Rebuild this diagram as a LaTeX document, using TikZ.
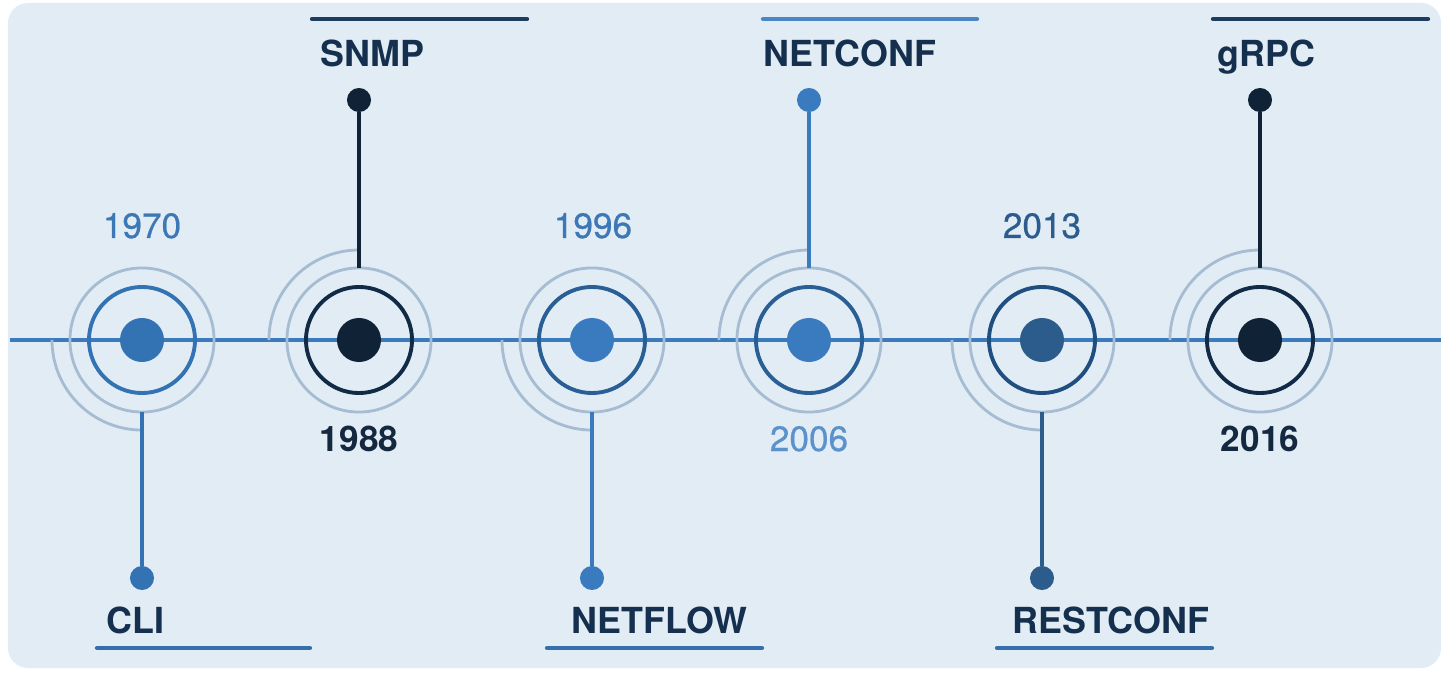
\documentclass[tikz,border=0pt]{standalone}
\usepackage{fontspec}
\setmainfont{TeX Gyre Heros}
\newfontfamily\yearfont[FakeBold=0.6]{TeX Gyre Heros}
\definecolor{panel}{HTML}{E2ECF5}
\definecolor{tline}{HTML}{3B7BBD}
\definecolor{bluea}{HTML}{3473B3}
\definecolor{blueb}{HTML}{3A7BBF}
\definecolor{bluec}{HTML}{2C5C8C}
\definecolor{ringb}{HTML}{2A5F96}
\definecolor{ringc}{HTML}{1F4F80}
\definecolor{navy}{HTML}{0F2236}
\definecolor{navyring}{HTML}{112A45}
\definecolor{halo}{HTML}{A6BCD2}
\definecolor{lbl}{HTML}{15304E}
\definecolor{yra}{HTML}{3C78B6}
\definecolor{yrb}{HTML}{5B92CB}
\definecolor{yrc}{HTML}{2B5C8F}
\definecolor{yrd}{HTML}{14283F}
\definecolor{barnavy}{HTML}{1C3C60}
\definecolor{barblue}{HTML}{4A88C5}
\definecolor{barmid}{HTML}{3670AC}
\tikzset{
  core/.style={circle, fill=#1, minimum size=0.44cm, inner sep=0pt, outer sep=0pt},
  ring/.style={circle, draw=#1, line width=1.1pt, minimum size=1.06cm, inner sep=0pt},
  halo ring/.style={circle, draw=halo, line width=0.8pt, minimum size=1.44cm, inner sep=0pt, outer sep=0pt},
  halo arc/.style={draw=halo, line width=0.8pt},
  enddot/.style={circle, fill=#1, minimum size=0.24cm, inner sep=0pt, outer sep=0pt},
  stem/.style={draw=#1, line width=1.1pt},
  bar/.style={draw=#1, line width=1.2pt, line cap=round},
  tech/.style={anchor=base west, text=lbl, font=\fontsize{10.2}{12}\selectfont\bfseries, inner sep=0pt},
  year/.style={anchor=base, text=#1, font=\fontsize{10}{12}\selectfont\yearfont, inner sep=0pt},
  boldyear/.style={anchor=base, text=yrd, font=\fontsize{10}{12}\selectfont\bfseries, inner sep=0pt},
}
\begin{document}
\begin{tikzpicture}[x=0.01cm, y=0.01cm]
\useasboundingbox (0,0) rectangle (1441,675);
\fill[white] (0,0) rectangle (1441,675);
\fill[panel, rounded corners=0.2cm] (8,7) rectangle (1441,672);

% timeline
\coordinate (tl) at (10,335);
\coordinate (tr) at (1441,335);
\draw[tline, line width=1.1pt] (tl) -- (tr);

% ---- 1970 CLI (down)
\node[halo ring] (h1) at (142,335) {};
\draw[halo arc] (52,335) arc (180:270:0.9cm);
\node[ring=bluea] (r1) at (142,335) {};
\node[core=bluea] (d1) at (142,335) {};
\node[enddot=bluea] (e1) at (142,97) {};
\draw[stem=bluea] (h1.south) -- (e1);
\node[year=yra] (y1) at (142,437) {1970};
\node[tech] (t1) at (106,42) {CLI};
\coordinate (b1a) at (97,27); \coordinate (b1b) at (310,27);
\draw[bar=barmid] (b1a) -- (b1b);

% ---- 1988 SNMP (up)
\node[halo ring] (h2) at (359,335) {};
\draw[halo arc] (359,425) arc (90:180:0.9cm);
\node[ring=navyring] (r2) at (359,335) {};
\node[core=navy] (d2) at (359,335) {};
\node[enddot=navy] (e2) at (359,575) {};
\draw[stem=navy] (h2.north) -- (e2);
\node[boldyear] (y2) at (359,224) {1988};
\node[tech] (t2) at (320,608) {SNMP};
\coordinate (b2a) at (312,656); \coordinate (b2b) at (527,656);
\draw[bar=barnavy] (b2a) -- (b2b);

% ---- 1996 NETFLOW (down)
\node[halo ring] (h3) at (592,335) {};
\draw[halo arc] (502,335) arc (180:270:0.9cm);
\node[ring=ringb] (r3) at (592,335) {};
\node[core=blueb] (d3) at (592,335) {};
\node[enddot=blueb] (e3) at (592,97) {};
\draw[stem=blueb] (h3.south) -- (e3);
\node[year=yra] (y3) at (593,437) {1996};
\node[tech] (t3) at (571,42) {NETFLOW};
\coordinate (b3a) at (547,27); \coordinate (b3b) at (762,27);
\draw[bar=barmid] (b3a) -- (b3b);

% ---- 2006 NETCONF (up)
\node[halo ring] (h4) at (809,335) {};
\draw[halo arc] (809,425) arc (90:180:0.9cm);
\node[ring=ringb] (r4) at (809,335) {};
\node[core=blueb] (d4) at (809,335) {};
\node[enddot=blueb] (e4) at (809,575) {};
\draw[stem=blueb] (h4.north) -- (e4);
\node[year=yrb] (y4) at (809,224) {2006};
\node[tech] (t4) at (763,608) {NETCONF};
\coordinate (b4a) at (763,656); \coordinate (b4b) at (977,656);
\draw[bar=barblue] (b4a) -- (b4b);

% ---- 2013 RESTCONF (down)
\node[halo ring] (h5) at (1042,335) {};
\draw[halo arc] (952,335) arc (180:270:0.9cm);
\node[ring=ringc] (r5) at (1042,335) {};
\node[core=bluec] (d5) at (1042,335) {};
\node[enddot=bluec] (e5) at (1042,97) {};
\draw[stem=bluec] (h5.south) -- (e5);
\node[year=yrc] (y5) at (1042,437) {2013};
\node[tech] (t5) at (1012,42) {RESTCONF};
\coordinate (b5a) at (997,27); \coordinate (b5b) at (1212,27);
\draw[bar=barmid] (b5a) -- (b5b);

% ---- 2016 gRPC (up)
\node[halo ring] (h6) at (1260,335) {};
\draw[halo arc] (1260,425) arc (90:180:0.9cm);
\node[ring=navyring] (r6) at (1260,335) {};
\node[core=navy] (d6) at (1260,335) {};
\node[enddot=navy] (e6) at (1260,575) {};
\draw[stem=navy] (h6.north) -- (e6);
\node[boldyear] (y6) at (1260,224) {2016};
\node[tech] (t6) at (1217,608) {gRPC};
\coordinate (b6a) at (1213,656); \coordinate (b6b) at (1428,656);
\draw[bar=barnavy] (b6a) -- (b6b);
\end{tikzpicture}
\end{document}
